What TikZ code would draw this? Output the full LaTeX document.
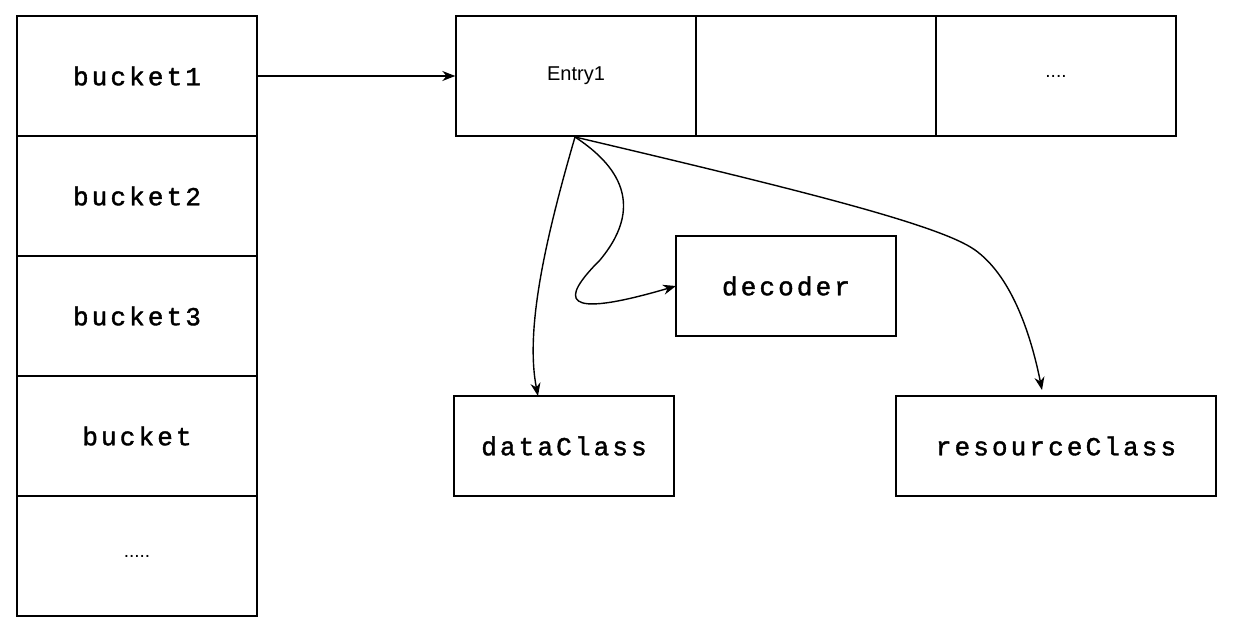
\documentclass[tikz,border=0pt]{standalone}
\usepackage{fontspec}
\setmainfont{Liberation Sans}
\newfontfamily\mono[LetterSpace=12,FakeBold=1.5]{Liberation Mono}
\usetikzlibrary{arrows.meta}
\begin{document}
\begin{tikzpicture}[x=1pt,y=-1pt,
 box/.style={draw,line width=1.4pt,minimum width=#1,minimum height=100pt,inner sep=0,font=\mono\fontsize{26}{26}\selectfont},
 cell/.style={draw,line width=1.4pt,minimum width=240pt,minimum height=120pt,inner sep=0,font=\mono\fontsize{26}{26}\selectfont},
 arr/.style={-{Stealth[length=13pt,width=10pt]},line width=1.4pt}]
\useasboundingbox (0,0) rectangle (1234,634);
\node[cell] (b1) at (137,76) {bucket1};
\node[cell] (b2) at (137,196) {bucket2};
\node[cell] (b3) at (137,316) {bucket3};
\node[cell] (b4) at (137,436) {bucket};
\node[cell,font=\fontsize{19}{19}\selectfont] (b5) at (137,556) {.....};
\node[cell,font=\fontsize{20}{20}\selectfont] (e1) at (576,76) {Entry1};
\node[cell] (e2) at (816,76) {};
\node[cell,font=\fontsize{19}{19}\selectfont] (e3) at (1056,76) {....};
\node[box=220pt] (dec) at (786,286) {decoder};
\node[box=220pt] (dc) at (564,446) {dataClass};
\node[box=320pt] (rc) at (1056,446) {resourceClass};
\coordinate (s) at (575,137);
\draw[arr] (b1.east) -- (e1.west);
\draw[arr] (s) .. controls (545,240) and (525,330) .. (538,396);
\draw[arr] (s) .. controls (610,160) and (650,200) .. (600,260) .. controls (560,300) and (560,320) .. (676,286);
\draw[arr] (s) .. controls (800,190) and (940,225) .. (975,250) .. controls (1010,275) and (1030,330) .. (1042,390);
\end{tikzpicture}
\end{document}
